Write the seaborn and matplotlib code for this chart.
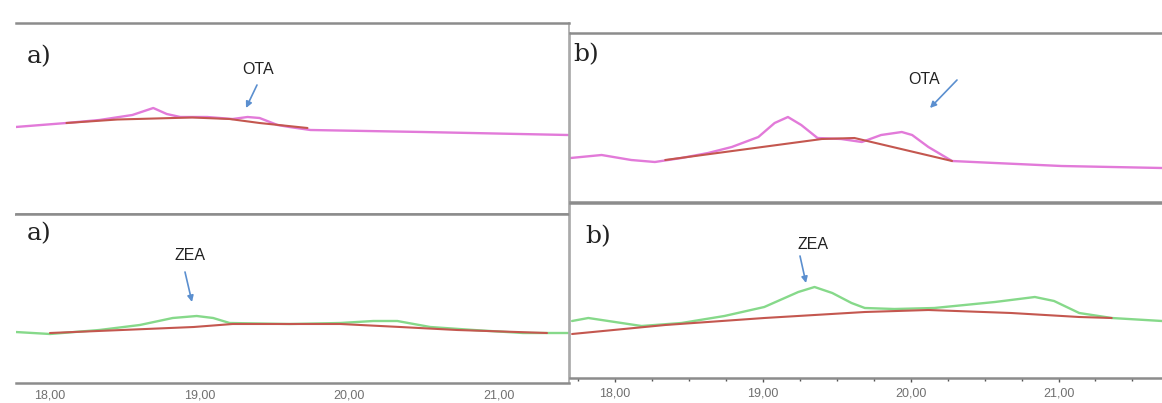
import numpy as np
import pandas as pd
import seaborn as sns
import matplotlib.pyplot as plt
from matplotlib.ticker import MultipleLocator, FixedLocator
from matplotlib.patches import FancyArrowPatch

# ---------------- data (retention time in min, detector response) ----------------
# a) OTA chromatogram
ota_a_t = [17.77, 18.11, 18.33, 18.55, 18.69, 18.78, 18.87, 19.05, 19.22, 19.32, 19.40, 19.52, 19.60, 19.74, 20.49, 21.46]
ota_a_y = [87, 91, 94, 99, 106, 100, 97, 97, 95, 97, 96, 89, 87, 84, 82, 79]
ota_a_base_t = [18.11, 18.45, 18.95, 19.20, 19.40, 19.72]
ota_a_base_y = [91, 94.5, 96.5, 95, 91, 86]

# b) OTA chromatogram
ota_b_t = [17.70, 17.91, 18.11, 18.27, 18.45, 18.63, 18.79, 18.97, 19.08, 19.17, 19.26, 19.37, 19.53, 19.67,
           19.80, 19.94, 20.01, 20.12, 20.28, 20.57, 21.02, 21.70]
ota_b_y = [44, 47, 42, 40, 44, 49, 55, 65, 79, 85, 77, 64, 63, 60, 67, 70, 67, 55, 41, 39, 36, 34]
ota_b_base_t = [18.34, 19.40, 19.62, 20.28]
ota_b_base_y = [42, 63, 64, 41]

# a) ZEA chromatogram
zea_a_t = [17.77, 18.00, 18.33, 18.60, 18.82, 18.98, 19.09, 19.20, 19.60, 19.94, 20.16, 20.32, 20.54, 20.83, 21.16, 21.46]
zea_a_y = [51, 49, 53, 58, 65, 67, 65, 60, 59, 60, 62, 62, 56, 53, 50, 50]
zea_a_base_t = [18.00, 18.96, 19.22, 19.94, 20.34, 20.72, 21.32]
zea_a_base_y = [50, 56, 59, 59, 56, 53, 50]

# b) ZEA chromatogram
zea_b_t = [17.71, 17.82, 18.00, 18.18, 18.45, 18.74, 19.01, 19.24, 19.35, 19.47, 19.60, 19.69, 19.89, 20.16,
           20.57, 20.84, 20.97, 21.14, 21.36, 21.70]
zea_b_y = [57, 60, 56, 52, 55, 62, 71, 86, 91, 85, 75, 70, 69, 70, 76, 81, 77, 65, 60, 57]
zea_b_base_t = [17.71, 18.34, 19.01, 19.69, 20.12, 20.68, 21.14, 21.36]
zea_b_base_y = [44, 53, 60, 66, 68, 65, 61, 60]

tick_values = [18, 19, 20, 21]
tick_labels = ["18,00", "19,00", "20,00", "21,00"]
panel_labels = ["a)", "b)", "a)", "b)"]
analytes = ["OTA", "OTA", "ZEA", "ZEA"]

# ---------------- figure ----------------
W, H = 1162, 403
sns.set_theme(style="white")
plt.rcParams['font.family'] = ['DejaVu Sans']
fig = plt.figure(figsize=(W / 100, H / 100), dpi=100)
fig.patch.set_facecolor("white")

def fpx(x, y):
    return (x / W, 1 - y / H)

def add_ax(x0, y0, x1, y1):
    return fig.add_axes([x0 / W, 1 - y1 / H, (x1 - x0) / W, (y1 - y0) / H])

ax_ota_a = add_ax(16, 23, 569, 214)
ax_zea_a = add_ax(16, 214, 569, 383)
ax_ota_b = add_ax(570, 33, 1162, 202)
ax_zea_b = add_ax(570, 203, 1162, 378)

PINK = "#e27ad9"
GREEN = "#86d98a"
BASE_RED = "#c4574f"
ARROW = "#5b8fcf"
SPINE = "#8c8c8c"

def draw(ax, t, y, bt, by, color, xlim, ylim):
    sns.lineplot(x=bt, y=by, ax=ax, color=BASE_RED, lw=1.5, zorder=3)
    sns.lineplot(x=t, y=y, ax=ax, color=color, lw=1.7, zorder=2)
    ax.set_xlim(*xlim)
    ax.set_ylim(*ylim)
    ax.set_yticks([])
    ax.set_xlabel("")
    ax.set_ylabel("")
    ax.set_facecolor("white")

left_xlim = (17.773, 21.467)
right_xlim = (17.696, 21.70)

draw(ax_ota_a, ota_a_t, ota_a_y, ota_a_base_t, ota_a_base_y, PINK, left_xlim, (0, 191))
draw(ax_zea_a, zea_a_t, zea_a_y, zea_a_base_t, zea_a_base_y, GREEN, left_xlim, (0, 169))
draw(ax_ota_b, ota_b_t, ota_b_y, ota_b_base_t, ota_b_base_y, PINK, right_xlim, (0, 169))
draw(ax_zea_b, zea_b_t, zea_b_y, zea_b_base_t, zea_b_base_y, GREEN, right_xlim, (0, 175))

for ax in (ax_ota_a, ax_zea_a, ax_ota_b, ax_zea_b):
    for s in ("top", "bottom"):
        ax.spines[s].set_color(SPINE)
        ax.spines[s].set_linewidth(1.8)
    for s in ("left", "right"):
        ax.spines[s].set_color("#a8a8a8")
        ax.spines[s].set_linewidth(1.2)

for ax in (ax_ota_a, ax_zea_a):
    ax.spines["left"].set_visible(False)
for ax in (ax_ota_b, ax_zea_b):
    ax.spines["right"].set_visible(False)

# x ticks
for ax in (ax_ota_a, ax_ota_b):
    ax.set_xticks([])
ax_zea_a.xaxis.set_major_locator(FixedLocator(tick_values))
ax_zea_a.set_xticklabels(tick_labels)
ax_zea_a.tick_params(axis="x", length=0, pad=5, labelsize=9, labelcolor="#707070")

ax_zea_b.xaxis.set_major_locator(FixedLocator(tick_values))
ax_zea_b.set_xticklabels(tick_labels)
ax_zea_b.xaxis.set_minor_locator(MultipleLocator(0.25))
ax_zea_b.tick_params(axis="x", which="major", direction="out", length=3, width=1, color="#555555",
                     pad=4, labelsize=9, labelcolor="#707070", bottom=True)
ax_zea_b.tick_params(axis="x", which="minor", direction="out", length=2, width=1, color="#555555", bottom=True)

for lbl in ax_zea_a.get_xticklabels() + ax_zea_b.get_xticklabels():
    lbl.set_family("Liberation Sans")

# panel labels
label_pos = [(27, 57), (573, 55), (27, 234), (585, 237)]
for (px, py), txt in zip(label_pos, panel_labels):
    fig.text(*fpx(px, py), txt, fontsize=18, family="DejaVu Serif", color="#222222",
             ha="left", va="center")

# analyte annotations with arrows
ann = [
    ((258, 70), (257, 85), (246, 108)),
    ((924, 80), (957, 80), (930, 108)),
    ((190, 255), (185, 272), (192, 302)),
    ((813, 244), (800, 256), (806, 283)),
]
for txt, (tp, a0, a1) in zip(analytes, ann):
    fig.text(*fpx(*tp), txt, fontsize=11.5, family="Liberation Sans", color="#222222",
             ha="center", va="center")
    arr = FancyArrowPatch(fpx(*a0), fpx(*a1), transform=fig.transFigure,
                          arrowstyle="-|>", color=ARROW, lw=1.2, mutation_scale=9,
                          shrinkA=0, shrinkB=0, zorder=10)
    fig.add_artist(arr)

fig.savefig("out.png", dpi=100, facecolor="white")
